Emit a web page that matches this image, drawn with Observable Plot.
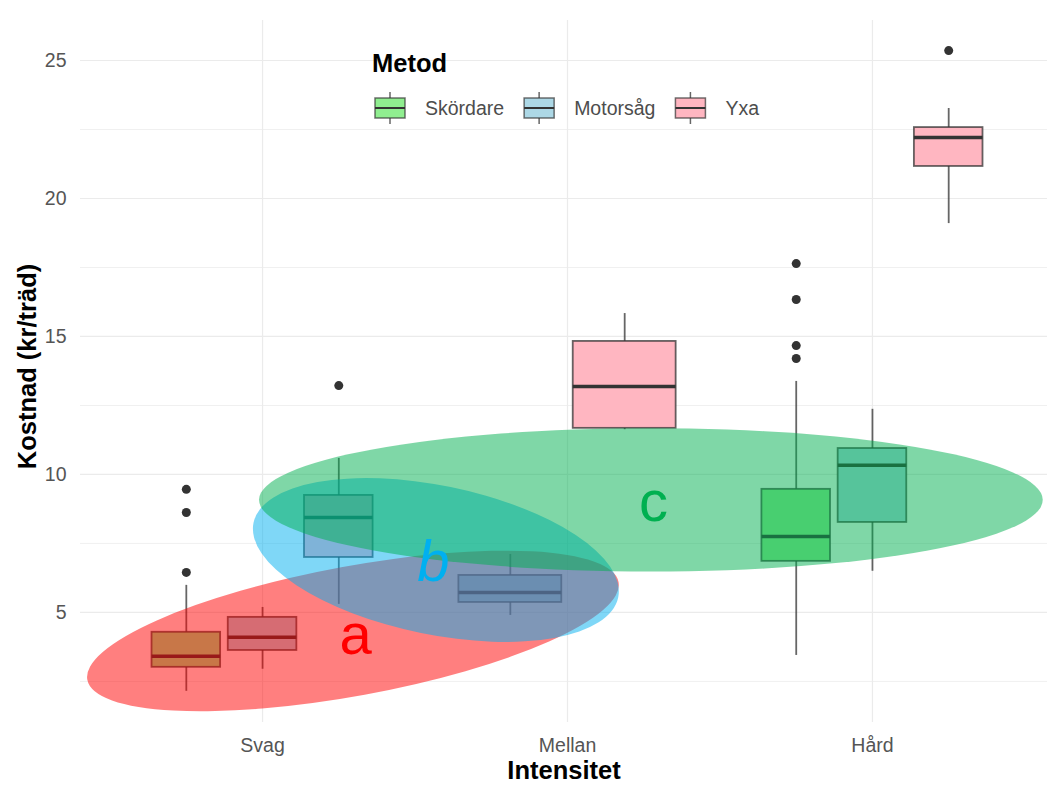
<!DOCTYPE html>
<html>
<head>
<meta charset="utf-8">
<script src="https://cdn.jsdelivr.net/npm/d3@7"></script>
<script src="https://cdn.jsdelivr.net/npm/@observablehq/plot@0.6"></script>
<style>
  body { margin: 0; background: #ffffff; }
  #chart { position: relative; width: 1047px; height: 785px; }
  #legend { position: absolute; left: 0; top: 0; pointer-events: none; }
</style>
</head>
<body>
<div id="chart"></div>
<script>
// ---- data ---------------------------------------------------------------
const intensities = ["Svag", "Mellan", "Hård"];
const methods = ["Skördare", "Motorsåg", "Yxa"];

// one entry per box (Kostnad, kr/träd)
const boxIntensity = ["Svag", "Svag", "Svag", "Mellan", "Mellan", "Hård", "Hård", "Hård"];
const boxMethod    = ["Skördare", "Motorsåg", "Yxa", "Motorsåg", "Yxa", "Skördare", "Motorsåg", "Yxa"];
const whiskerLow   = [2.14, 2.94, 5.29, 4.89, 11.62, 3.44, 6.49, 19.09];
const quartile1    = [3.01, 3.62, 6.99, 5.36, 11.67, 6.85, 8.26, 21.16];
const medians      = [3.41, 4.10, 8.44, 5.72, 13.19, 7.75, 10.33, 22.21];
const quartile3    = [4.28, 4.82, 9.24, 6.34, 14.82, 9.46, 10.94, 22.57];
const whiskerHigh  = [5.98, 5.18, 10.58, 7.10, 15.83, 13.37, 12.36, 23.26];
const outliers     = [[6.45, 8.62, 9.46], [], [13.22], [], [], [14.20, 14.67, 16.34, 17.64], [], [25.36]];

const yTicks = [5, 10, 15, 20, 25];
const yMinorTicks = [2.5, 7.5, 12.5, 17.5, 22.5];

// highlighted groups: ellipse centre, end of major axis (data units), minor/major ratio
const groupLabels      = ["a", "b", "c"];
const groupCenterX     = [1.298, 1.570, 2.275];
const groupCenterY     = [4.31, 6.88, 9.06];
const groupAxisEndX    = [2.169, 2.168, 3.560];
const groupAxisEndY    = [6.08, 5.53, 9.06];
const groupMinorRatio  = [0.24, 0.40, 0.183];
const groupLabelX      = [1.305, 1.560, 2.282];
const groupLabelY      = [4.17, 6.81, 8.99];

// ---- styling --------------------------------------------------------------
const fills = ["#90ee90", "#add8e6", "#ffb6c1"];
const groupColors = ["#ff0000", "#00b0f0", "#00b050"];
const groupItalic = [false, true, false];
const font = "'Liberation Sans', Arial, Helvetica, sans-serif";
const ink = "#333333";

// ---- dodge layout (ggplot dodge2-like) ----------------------------------
const dodgeWidth = 0.75, dodgePadding = 0.1;
const boxes = boxMethod.map((method, i) => {
  const intensity = boxIntensity[i];
  const siblings = boxMethod
    .map((m, j) => j)
    .filter(j => boxIntensity[j] === intensity)
    .sort((p, q) => methods.indexOf(boxMethod[p]) - methods.indexOf(boxMethod[q]));
  const n = siblings.length, k = siblings.indexOf(i);
  const slot = dodgeWidth / n;
  const cx = intensities.indexOf(intensity) + 1 - dodgeWidth / 2 + slot * (k + 0.5);
  const half = slot * (1 - dodgePadding) / 2;
  return {
    intensity, method, cx, x1: cx - half, x2: cx + half,
    lo: whiskerLow[i], q1: quartile1[i], med: medians[i], q3: quartile3[i], hi: whiskerHigh[i]
  };
});
const outlierRows = boxes.flatMap((b, i) => outliers[i].map(value => ({cx: b.cx, value})));

const groups = groupLabels.map((label, i) => ({
  label, i, x: groupLabelX[i], y: groupLabelY[i]
}));

// ellipse drawn through the plot's x / y scales
function ellipseMark(i) {
  return function (...args) {
    const scales = args.find(a => a && typeof a.x === "function" && typeof a.y === "function");
    const cx = scales.x(groupCenterX[i]), cy = scales.y(groupCenterY[i]);
    const ex = scales.x(groupAxisEndX[i]), ey = scales.y(groupAxisEndY[i]);
    const rx = Math.hypot(ex - cx, ey - cy);
    const angle = Math.atan2(ey - cy, ex - cx) * 180 / Math.PI;
    return d3.create("svg:ellipse")
      .attr("cx", cx).attr("cy", cy)
      .attr("rx", rx).attr("ry", rx * groupMinorRatio[i])
      .attr("transform", `rotate(${angle} ${cx} ${cy})`)
      .attr("fill", groupColors[i])
      .attr("fill-opacity", 0.5)
      .node();
  };
}

const groupText = italic => Plot.text(groups.filter(d => groupItalic[d.i] === italic), {
  x: "x", y: "y", text: "label",
  fill: d => groupColors[d.i],
  fontSize: 58,
  fontStyle: italic ? "italic" : "normal",
  lineAnchor: "middle"
});

const plot = Plot.plot({
  width: 1047,
  height: 785,
  marginLeft: 80,
  marginRight: 0,
  marginTop: 20,
  marginBottom: 63,
  style: {fontFamily: font, fontSize: "19.5px", color: "#555555", background: "#ffffff"},
  x: {
    domain: [0.403, 3.574],
    ticks: [1, 2, 3],
    tickFormat: d => intensities[d - 1],
    tickSize: 0,
    tickPadding: 16,
    label: null
  },
  y: {
    domain: [1.01, 26.45],
    ticks: yTicks,
    tickSize: 0,
    tickPadding: 14,
    label: null
  },
  color: {domain: methods, range: fills},
  marks: [
    // grid
    Plot.ruleY(yMinorTicks, {stroke: "#f0f0f0", strokeWidth: 1}),
    Plot.ruleY(yTicks, {stroke: "#ebebeb", strokeWidth: 1.2}),
    Plot.ruleX([1, 2, 3], {stroke: "#ebebeb", strokeWidth: 1.2}),
    // whiskers
    Plot.ruleX(boxes, {x: "cx", y1: "q3", y2: "hi", stroke: ink, strokeOpacity: 0.75, strokeWidth: 1.8}),
    Plot.ruleX(boxes, {x: "cx", y1: "lo", y2: "q1", stroke: ink, strokeOpacity: 0.75, strokeWidth: 1.8}),
    // boxes
    Plot.rect(boxes, {x1: "x1", x2: "x2", y1: "q1", y2: "q3", fill: "method",
      stroke: ink, strokeOpacity: 0.75, strokeWidth: 1.8}),
    // medians
    Plot.ruleY(boxes, {y: "med", x1: "x1", x2: "x2", stroke: ink, strokeWidth: 3.5}),
    // outliers
    Plot.dot(outlierRows, {x: "cx", y: "value", r: 4.5, fill: ink, stroke: "none"}),
    // highlighted groups
    ellipseMark(0),
    ellipseMark(1),
    ellipseMark(2),
    groupText(false),
    groupText(true),
    // axis titles
    Plot.text(["Intensitet"], {frameAnchor: "bottom", lineAnchor: "middle", textAnchor: "middle",
      dy: 48, fontSize: 25.5, fontWeight: "bold", fill: "#000000"}),
    Plot.text(["Kostnad (kr/träd)"], {frameAnchor: "left", lineAnchor: "middle", textAnchor: "middle",
      rotate: -90, dx: -53, dy: -5, fontSize: 25.5, fontWeight: "bold", fill: "#000000"})
  ]
});

const chart = document.getElementById("chart");
chart.appendChild(plot);

// ---- legend (Metod) -----------------------------------------------------
const legend = d3.select(chart).append("svg")
  .attr("id", "legend")
  .attr("width", 1047)
  .attr("height", 140)
  .style("font-family", font);

legend.append("text")
  .attr("x", 372).attr("y", 72)
  .attr("font-size", 25.5).attr("font-weight", "bold").attr("fill", "#000000")
  .text("Metod");

let cursor = 370;
const keyY = 108, keySize = 40;
methods.forEach((m, j) => {
  const kx = cursor + keySize / 2;
  const g = legend.append("g");
  g.append("line")
    .attr("x1", kx).attr("x2", kx).attr("y1", keyY - 16).attr("y2", keyY + 16)
    .attr("stroke", ink).attr("stroke-opacity", 0.75).attr("stroke-width", 1.5);
  g.append("rect")
    .attr("x", kx - 15).attr("y", keyY - 10).attr("width", 30).attr("height", 20)
    .attr("fill", fills[j]).attr("stroke", ink).attr("stroke-opacity", 0.7).attr("stroke-width", 1.5);
  g.append("line")
    .attr("x1", kx - 15).attr("x2", kx + 15).attr("y1", keyY).attr("y2", keyY)
    .attr("stroke", ink).attr("stroke-width", 2);
  const label = g.append("text")
    .attr("x", cursor + keySize + 15).attr("y", keyY).attr("dy", "0.35em")
    .attr("font-size", 19.5).attr("fill", "#4d4d4d")
    .text(m);
  cursor += keySize + 15 + label.node().getComputedTextLength() + 15;
});
</script>
</body>
</html>
